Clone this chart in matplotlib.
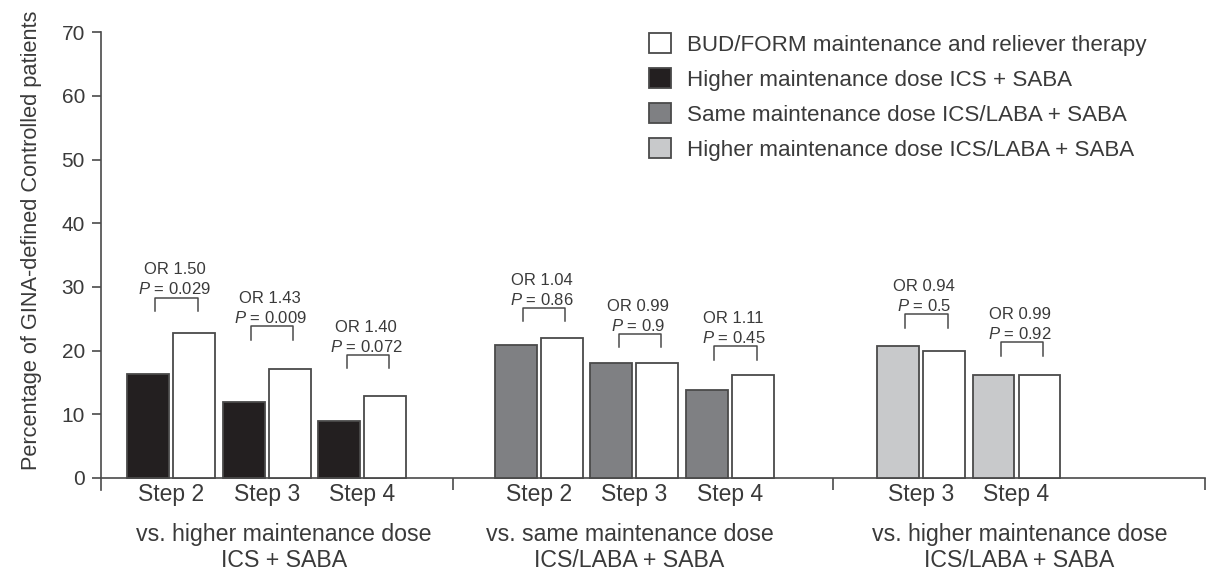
import matplotlib
matplotlib.use('Agg')
import matplotlib.pyplot as plt
import matplotlib.patches as mpatches
import numpy as np

plt.rcParams['font.family'] = ['Liberation Sans', 'DejaVu Sans']
plt.rcParams['mathtext.fontset'] = 'custom'
plt.rcParams['mathtext.it'] = 'Liberation Sans:italic'
plt.rcParams['mathtext.rm'] = 'Liberation Sans'

# comparison groups
group_titles = ['vs. higher maintenance dose\nICS + SABA',
                'vs. same maintenance dose\nICS/LABA + SABA',
                'vs. higher maintenance dose\nICS/LABA + SABA']
group_steps = [['Step 2', 'Step 3', 'Step 4'],
               ['Step 2', 'Step 3', 'Step 4'],
               ['Step 3', 'Step 4']]

# percentage of GINA-defined controlled patients
comparator_values = [[16.3, 11.9, 9.0],
                     [20.9, 18.0, 13.8],
                     [20.7, 16.2]]
budform_values = [[22.8, 17.1, 12.8],
                  [21.9, 18.0, 16.1],
                  [19.9, 16.2]]

odds_ratios = [['1.50', '1.43', '1.40'],
               ['1.04', '0.99', '1.11'],
               ['0.94', '0.99']]
p_values = [['0.029', '0.009', '0.072'],
            ['0.86', '0.9', '0.45'],
            ['0.5', '0.92']]

legend_labels = ['BUD/FORM maintenance and reliever therapy',
                 'Higher maintenance dose ICS + SABA',
                 'Same maintenance dose ICS/LABA + SABA',
                 'Higher maintenance dose ICS/LABA + SABA']

# layout (in step units)
group_start = [0.73, 4.57, 8.56]
first_step = [2, 2, 3]
separators = [3.68, 7.64, 11.53]
title_x = [1.91, 5.52, 9.59]
bracket_levels = [[28.3, 23.8, 19.3],
                  [26.7, 22.6, 20.7],
                  [25.7, 21.3]]

comparator_colors = ['#231f20', '#7f8083', '#c8c9cb']
edge = '#4a4a4a'
text_color = '#3a3a3a'
bar_w = 0.4375
off = 0.24

fig = plt.figure(figsize=(12.18, 5.73), dpi=100)
ax = fig.add_axes([101 / 1218, 83 / 573, 1107 / 1218, 457.7 / 573])

tick_pos = []
tick_lab = []
for g in range(3):
    steps = group_steps[g]
    n = len(steps)
    centers = np.array([group_start[g] + int(s[-1]) - first_step[g] for s in steps], dtype=float)
    ax.bar(centers - off, comparator_values[g], bar_w, color=comparator_colors[g],
           edgecolor=edge, linewidth=1.3, zorder=3)
    ax.bar(centers + off, budform_values[g], bar_w, color='white',
           edgecolor=edge, linewidth=1.3, zorder=3)
    tick_pos.extend(centers)
    tick_lab.extend(steps)

    # brackets with odds ratio and p value
    for i in range(n):
        x0 = centers[i] - 0.165
        x1 = centers[i] + 0.28
        top = bracket_levels[g][i]
        ax.plot([x0, x0, x1, x1], [top - 2.1, top, top, top - 2.1],
                color=edge, linewidth=1.1, zorder=4)
        xm = (x0 + x1) / 2 - 0.02
        ax.annotate('$P$ = ' + p_values[g][i], (xm, top), xytext=(0, 2.4),
                    textcoords='offset points', ha='center', va='baseline',
                    fontsize=12, color=text_color)
        ax.annotate('OR ' + odds_ratios[g][i], (xm, top), xytext=(0, 16.8),
                    textcoords='offset points', ha='center', va='baseline',
                    fontsize=12, color=text_color)

    ax.annotate(group_titles[g], (title_x[g], 0), xytext=(0, -32.5),
                textcoords='offset points', ha='center', va='top',
                fontsize=16.7, color=text_color, linespacing=1.15)

ax.set_xlim(0, 11.56)
ax.set_ylim(-1.9, 70)
ax.set_yticks(np.arange(0, 71, 10))
ax.set_xticks(tick_pos)
ax.set_xticklabels(tick_lab)
ax.set_xticks(separators, minor=True)

for s in ['top', 'right']:
    ax.spines[s].set_visible(False)
ax.spines['bottom'].set_position(('data', 0))
ax.spines['bottom'].set_bounds(0, 11.53)
ax.spines['left'].set_bounds(-1.9, 70)
for s in ['left', 'bottom']:
    ax.spines[s].set_color(edge)
    ax.spines[s].set_linewidth(1.2)

ax.tick_params(axis='y', direction='out', length=6.5, width=1.2, color=edge,
               labelsize=15, labelcolor=text_color, pad=5)
ax.tick_params(axis='x', which='major', length=0, labelsize=16.5,
               labelcolor=text_color, pad=4)
ax.tick_params(axis='x', which='minor', direction='out', length=8.5, width=1.2, color=edge)

fig.text(32 / 1218, 1 - 240 / 573, 'Percentage of GINA-defined Controlled patients',
         rotation=90, ha='center', va='center', fontsize=15.7, color=text_color)

# legend
handles = [mpatches.Patch(facecolor='white', edgecolor=edge, linewidth=1.3)]
for c in comparator_colors:
    handles.append(mpatches.Patch(facecolor=c, edgecolor=edge, linewidth=1.3))
fig.legend(handles, legend_labels, loc='upper left',
           bbox_to_anchor=(649 / 1218, 1 - 33 / 573), frameon=False,
           fontsize=16.1, handlelength=1.0, handleheight=1.0,
           handletextpad=0.7, labelspacing=0.55, borderpad=0,
           borderaxespad=0, labelcolor=text_color)

plt.savefig('out.png', dpi=100)
